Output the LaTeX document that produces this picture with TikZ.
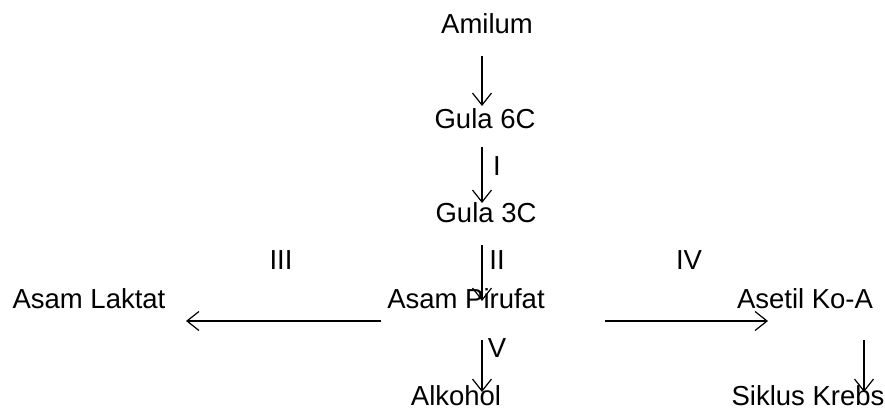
\documentclass[tikz,border=0pt]{standalone}
\usepackage{fontspec}
\setmainfont{Liberation Sans}
\usetikzlibrary{arrows.meta}
\begin{document}
\begin{tikzpicture}[x=1pt,y=-1pt,
  lbl/.style={font=\fontsize{27.5}{33}\selectfont, inner sep=0pt, anchor=base},
  arr/.style={line width=1.2pt, -{Straight Barb[length=12pt,width=19pt,line width=1.2pt]}}]
\useasboundingbox (0,0) rectangle (885,410);
% nodes
\node[lbl] (amilum)  at (487,33)  {Amilum};
\node[lbl] (gula6)   at (485,128) {Gula 6C};
\node[lbl] (gula3)   at (486,222) {Gula 3C};
\node[lbl] (laktat)  at (89,308)  {Asam Laktat};
\node[lbl] (piruvat) at (466,308) {Asam Pirufat};
\node[lbl] (asetil)  at (805,308) {Asetil Ko-A};
\node[lbl] (alkohol) at (456,405) {Alkohol};
\node[lbl] (krebs)   at (808,405) {Siklus Krebs};
% step labels
\node[lbl] (l1) at (497,175) {I};
\node[lbl] (l2) at (497,269) {II};
\node[lbl] (l3) at (281,269) {III};
\node[lbl] (l4) at (689,269) {IV};
\node[lbl] (l5) at (497,357) {V};
% connector ends
\coordinate (a1s) at (482,56);  \coordinate (a1e) at (482,106);
\coordinate (a2s) at (482,147); \coordinate (a2e) at (482,203);
\coordinate (a3s) at (482,245); \coordinate (a3e) at (482,301);
\coordinate (a4s) at (381,321); \coordinate (a4e) at (186,321);
\coordinate (a5s) at (605,321); \coordinate (a5e) at (768,321);
\coordinate (a6s) at (482,340); \coordinate (a6e) at (482,392);
\coordinate (a7s) at (864,340); \coordinate (a7e) at (864,392);
% connectors
\draw[arr] (a1s) -- (a1e);
\draw[arr] (a2s) -- (a2e);
\draw[arr] (a3s) -- (a3e);
\draw[arr] (a4s) -- (a4e);
\draw[arr] (a5s) -- (a5e);
\draw[arr] (a6s) -- (a6e);
\draw[arr] (a7s) -- (a7e);
\end{tikzpicture}
\end{document}
